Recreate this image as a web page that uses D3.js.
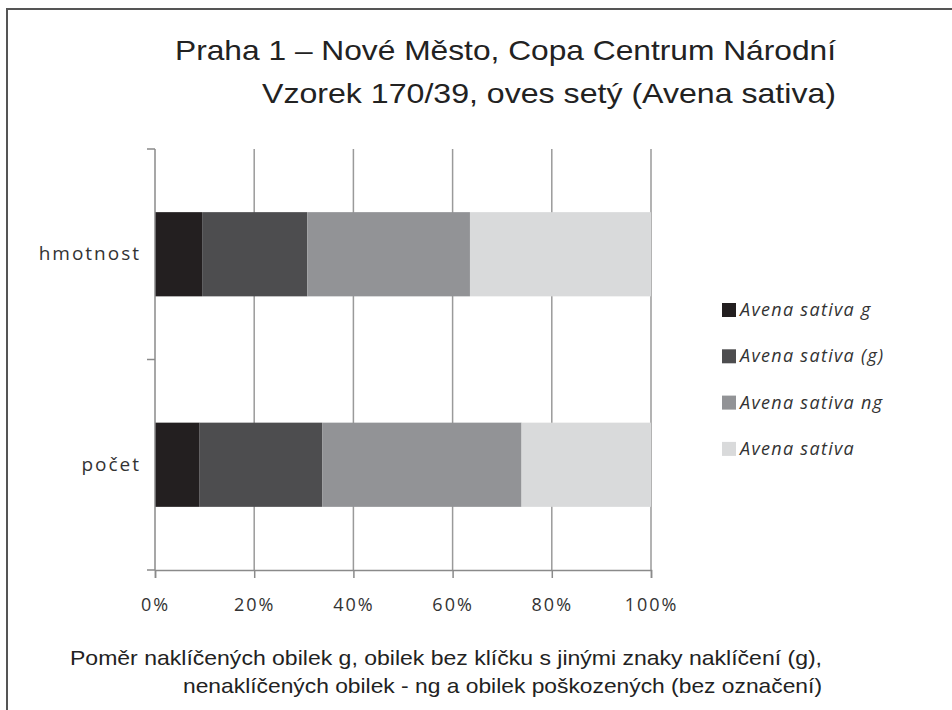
<!DOCTYPE html>
<html>
<head>
<meta charset="utf-8">
<script src="https://cdn.jsdelivr.net/npm/d3@7"></script>
<style>
	body { margin: 0; background: #fff; }
	svg { display: block; }
</style>
</head>
<body>
<script>
// data
var categories = ['hmotnost', 'počet'];
var seriesNames = ['Avena sativa g', 'Avena sativa (g)', 'Avena sativa ng', 'Avena sativa'];
var hmotnostValues = [9.5, 21.2, 32.8, 36.5];
var pocetValues = [9.0, 24.7, 40.2, 26.1];
var tickValues = [0, 20, 40, 60, 80, 100];
var titleLines = ['Praha 1 – Nové Město, Copa Centrum Národní', 'Vzorek 170/39, oves setý (Avena sativa)'];
var captionLines = ['Poměr naklíčených obilek g, obilek bez klíčku s jinými znaky naklíčení (g),',
	'nenaklíčených obilek - ng a obilek poškozených (bez označení)'];
var colors = ['#231f20', '#4d4d4f', '#929396', '#d9dadb'];

var width = 952, height = 710;
var svg = d3.select('body').append('svg')
	.attr('width', width)
	.attr('height', height);

// frame
svg.append('path')
	.attr('d', 'M7,' + height + 'V9H' + width)
	.attr('fill', 'none')
	.attr('stroke', '#555')
	.attr('stroke-width', 2);

// title
svg.selectAll('.title')
	.data(titleLines)
	.enter().append('text')
	.attr('class', 'title')
	.attr('x', 836)
	.attr('y', function(d, i) { return 60 + i * 43; })
	.attr('text-anchor', 'end')
	.attr('textLength', function(d, i) { return [661, 574][i]; })
	.attr('lengthAdjust', 'spacingAndGlyphs')
	.style('font-family', 'Liberation Sans, Arial, sans-serif')
	.style('font-size', '28px')
	.style('fill', '#222')
	.text(function(d) { return d; });

var x = d3.scaleLinear().domain([0, 100]).range([155, 651]);
var y = d3.scaleBand().domain(categories).range([149, 570])
	.paddingInner(0.6).paddingOuter(0.3);

var rows = [hmotnostValues, pocetValues].map(function(vals, i) {
	var acc = 0;
	return vals.map(function(v, j) {
		var seg = { cat: categories[i], s: j, x0: acc, x1: acc + v };
		acc += v;
		return seg;
	});
});

var g = svg.append('g');

// vertical gridlines
g.selectAll('.grid')
	.data(tickValues.slice(1))
	.enter().append('line')
	.attr('x1', function(d) { return x(d); })
	.attr('x2', function(d) { return x(d); })
	.attr('y1', 149)
	.attr('y2', 570)
	.attr('stroke', '#9a9a9a')
	.attr('stroke-width', 1.5);

// bars
g.selectAll('.bar')
	.data(d3.merge(rows))
	.enter().append('rect')
	.attr('x', function(d) { return x(d.x0); })
	.attr('width', function(d) { return x(d.x1) - x(d.x0); })
	.attr('y', function(d) { return y(d.cat); })
	.attr('height', y.bandwidth())
	.attr('fill', function(d) { return colors[d.s]; });

// y axis, ticks sit on the category boundaries
g.append('line')
	.attr('x1', x(0)).attr('x2', x(0))
	.attr('y1', 149).attr('y2', 570)
	.attr('stroke', '#8a8a8a').attr('stroke-width', 1.5);
g.selectAll('.ytick')
	.data([149, (149 + 570) / 2, 570])
	.enter().append('line')
	.attr('x1', x(0) - 8).attr('x2', x(0))
	.attr('y1', function(d) { return d; })
	.attr('y2', function(d) { return d; })
	.attr('stroke', '#8a8a8a').attr('stroke-width', 1.5);

// x axis
var xAxis = g.append('g')
	.attr('transform', 'translate(0,570)')
	.call(d3.axisBottom(x).tickValues(tickValues).tickSize(8).tickPadding(20)
		.tickFormat(function(d) { return d + '%'; }));
xAxis.select('.domain').attr('stroke', '#8a8a8a').attr('stroke-width', 1.5);
xAxis.selectAll('.tick line').attr('stroke', '#8a8a8a').attr('stroke-width', 1.5);
xAxis.selectAll('.tick text')
	.style('font-family', 'Open Sans, sans-serif')
	.style('font-size', '18px')
	.style('letter-spacing', '2px')
	.style('fill', '#333');

// category labels
g.selectAll('.cat')
	.data(categories)
	.enter().append('text')
	.attr('x', 141)
	.attr('y', function(d) { return y(d) + y.bandwidth() / 2 + 6; })
	.attr('text-anchor', 'end')
	.style('font-family', 'Open Sans, sans-serif')
	.style('font-size', '19px')
	.style('letter-spacing', '2px')
	.style('fill', '#333')
	.text(function(d) { return d; });

// legend
var legend = svg.selectAll('.legend')
	.data(seriesNames)
	.enter().append('g')
	.attr('transform', function(d, i) { return 'translate(722,' + (303 + i * 46.3) + ')'; });
legend.append('rect')
	.attr('width', 14).attr('height', 14)
	.attr('fill', function(d, i) { return colors[i]; });
legend.append('text')
	.attr('x', 18).attr('y', 13)
	.style('font-family', 'Open Sans, sans-serif')
	.style('font-style', 'italic')
	.style('font-size', '18px')
	.style('letter-spacing', '1.3px')
	.style('fill', '#333')
	.text(function(d) { return d; });

// caption
svg.selectAll('.caption')
	.data(captionLines)
	.enter().append('text')
	.attr('x', 822)
	.attr('y', function(d, i) { return 665 + i * 28; })
	.attr('text-anchor', 'end')
	.attr('textLength', function(d, i) { return [752, 639][i]; })
	.attr('lengthAdjust', 'spacingAndGlyphs')
	.style('font-family', 'Liberation Sans, Arial, sans-serif')
	.style('font-size', '21px')
	.style('fill', '#222')
	.text(function(d) { return d; });
</script>
</body>
</html>
